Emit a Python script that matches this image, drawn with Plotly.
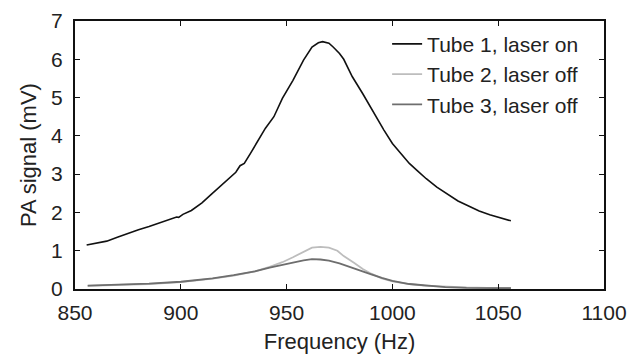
import plotly.graph_objects as go

tube1_freq = [855.5, 860, 865, 870, 875, 880, 885, 890, 895, 898, 899, 901, 905, 910, 914, 918,
              923, 926, 928, 930, 933, 937, 940, 944, 948, 953, 958, 962, 965, 967, 970, 972,
              975, 977, 981, 986, 991, 996, 1000, 1004, 1008, 1012, 1016, 1021, 1026, 1031,
              1036, 1041, 1046, 1051, 1056]
tube1_mv = [1.15, 1.20, 1.25, 1.35, 1.46, 1.55, 1.63, 1.73, 1.82, 1.88, 1.87, 1.95, 2.05, 2.25,
            2.45, 2.65, 2.90, 3.05, 3.22, 3.28, 3.55, 3.94, 4.20, 4.50, 4.98, 5.45, 5.98, 6.32,
            6.43, 6.46, 6.42, 6.32, 6.15, 6.00, 5.55, 5.10, 4.62, 4.15, 3.80, 3.53, 3.28, 3.08,
            2.88, 2.66, 2.48, 2.30, 2.17, 2.04, 1.94, 1.86, 1.78]

tube2_freq = [856, 870, 885, 900, 915, 925, 935, 942, 948, 953, 958, 962, 966, 970, 974, 977,
              982, 986, 990, 995, 1000, 1008, 1015, 1025, 1035, 1045, 1056]
tube2_mv = [0.08, 0.10, 0.13, 0.18, 0.27, 0.35, 0.46, 0.58, 0.70, 0.83, 0.98, 1.08, 1.10, 1.08,
            1.00, 0.86, 0.68, 0.52, 0.40, 0.28, 0.20, 0.13, 0.09, 0.06, 0.04, 0.03, 0.03]

tube3_freq = [856, 870, 885, 900, 915, 925, 935, 942, 948, 953, 958, 962, 966, 970, 975, 980,
              986, 990, 995, 1000, 1008, 1015, 1025, 1035, 1045, 1056]
tube3_mv = [0.09, 0.11, 0.14, 0.19, 0.28, 0.36, 0.46, 0.56, 0.64, 0.69, 0.75, 0.78, 0.77, 0.74,
            0.67, 0.58, 0.46, 0.38, 0.29, 0.21, 0.13, 0.09, 0.05, 0.03, 0.02, 0.02]

x_ticks = [850, 900, 950, 1000, 1050, 1100]
y_ticks = [0, 1, 2, 3, 4, 5, 6, 7]

fig = go.Figure()
fig.add_trace(go.Scatter(x=tube1_freq, y=tube1_mv, mode="lines", name="Tube 1, laser on",
                         line=dict(color="#111111", width=1.6)))
fig.add_trace(go.Scatter(x=tube2_freq, y=tube2_mv, mode="lines", name="Tube 2, laser off",
                         line=dict(color="#bdbdbd", width=1.8)))
fig.add_trace(go.Scatter(x=tube3_freq, y=tube3_mv, mode="lines", name="Tube 3, laser off",
                         line=dict(color="#6e6e6e", width=1.8)))

font = dict(family="Liberation Sans, Arial, sans-serif", size=21, color="#222222")
fig.update_layout(
    width=632, height=356,
    margin=dict(l=75, r=28, t=21, b=67),
    paper_bgcolor="white", plot_bgcolor="white",
    font=font,
    showlegend=True,
    legend=dict(x=0.59, y=0.99, xanchor="left", yanchor="top", bgcolor="rgba(0,0,0,0)",
                font=dict(size=21), tracegroupgap=0, itemwidth=30),
)
fig.update_xaxes(range=[850, 1100], tickvals=x_ticks, ticks="inside", ticklen=5,
                 showline=True, linecolor="#111111", linewidth=2, mirror="ticks",
                 showgrid=False, zeroline=False, tickcolor="#111111", automargin=False,
                 ticklabelstandoff=4, tickfont=dict(size=21),
                 title=dict(text="Frequency (Hz)", standoff=10, font=dict(size=22)))
fig.update_yaxes(range=[0, 7], tickvals=y_ticks, ticks="inside", ticklen=5,
                 showline=True, linecolor="#111111", linewidth=2, mirror="ticks",
                 showgrid=False, zeroline=False, tickcolor="#111111", automargin=False,
                 ticklabelstandoff=6, tickfont=dict(size=21),
                 title=dict(text="PA signal (mV)", standoff=8, font=dict(size=22)))

fig.write_html("out.html")
